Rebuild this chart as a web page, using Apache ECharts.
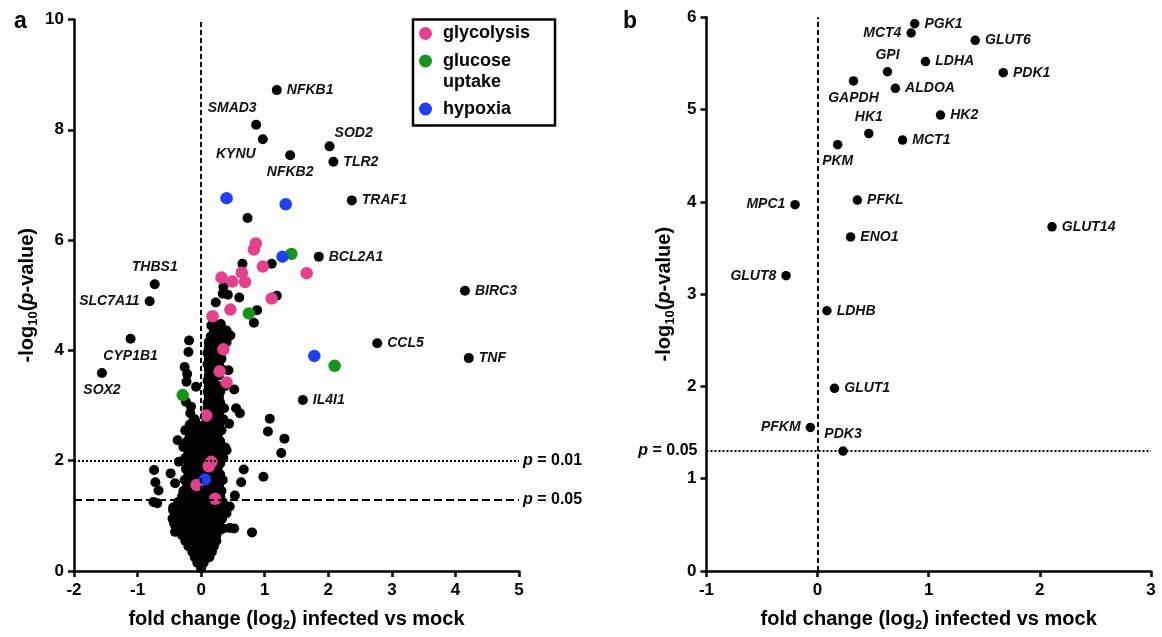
<!DOCTYPE html>
<html>
<head>
<meta charset="utf-8">
<script src="https://cdn.jsdelivr.net/npm/echarts@6/dist/echarts.min.js"></script>
<style>
  html, body { margin: 0; background: #fff; }
  #chart { width: 1162px; height: 637px; }
</style>
</head>
<body>
<div id="chart"></div>
<script>
const FONT = "'Liberation Sans', Arial, sans-serif";

// ---- panel a: [log2 fold change, -log10 p, gene] ----
const namedGenesA = [
  [1.19, 8.72, "NFKB1"], [0.865, 8.09, "SMAD3"], [0.97, 7.83, "KYNU"],
  [1.40, 7.54, "NFKB2"], [2.02, 7.70, "SOD2"], [2.08, 7.42, "TLR2"],
  [2.37, 6.72, "TRAF1"], [1.85, 5.70, "BCL2A1"], [4.15, 5.08, "BIRC3"],
  [-0.73, 5.20, "THBS1"], [-0.81, 4.89, "SLC7A11"], [-1.11, 4.21, "CYP1B1"],
  [-1.56, 3.59, "SOX2"], [2.77, 4.13, "CCL5"], [4.21, 3.86, "TNF"],
  [1.60, 3.10, "IL4I1"]
];

const glycolysisA = [
  [0.86, 5.94], [0.83, 5.83], [0.97, 5.52], [0.64, 5.41], [0.32, 5.32],
  [0.49, 5.25], [0.69, 5.24], [1.66, 5.40], [1.11, 4.94], [0.46, 4.74],
  [0.18, 4.62], [0.35, 4.02], [0.29, 3.62], [0.40, 3.42], [0.08, 2.82],
  [0.16, 1.98], [0.12, 1.90], [-0.07, 1.56], [0.22, 1.31]
];
const glucoseUptakeA = [[1.42, 5.75], [0.75, 4.67], [2.10, 3.72], [-0.29, 3.19]];
const hypoxiaA = [[0.40, 6.76], [1.33, 6.65], [1.28, 5.70], [1.78, 3.90], [0.06, 1.66]];

// scattered unlabeled genes
const otherGenesA = [
  [0.73, 6.40], [0.65, 5.57], [1.11, 5.57], [0.35, 5.15], [0.34, 5.03], [0.42, 5.01],
  [0.60, 4.96], [0.23, 4.87], [1.19, 4.99], [0.88, 4.73], [0.83, 4.50], [0.19, 4.48],
  [0.31, 4.48], [0.40, 4.36], [0.46, 4.27],
  [-0.19, 4.18], [-0.20, 3.97], [-0.26, 3.70], [-0.22, 3.57], [-0.08, 3.34], [-0.23, 3.43],
  [-0.24, 3.07], [-0.16, 2.98], [-0.17, 2.86], [-0.12, 2.74], [-0.17, 2.57],
  [0.43, 3.64], [0.52, 3.29], [0.55, 2.95], [0.61, 2.86], [0.44, 2.67], [1.08, 2.76],
  [1.05, 2.53], [1.31, 2.40], [1.26, 2.14], [0.98, 1.71], [0.67, 1.84], [0.63, 1.61],
  [0.80, 0.70], [0.52, 0.77], [0.35, 0.77], [0.53, 1.37], [0.38, 2.24], [0.40, 2.19],
  [0.38, 1.14], [0.45, 1.17], [0.45, 0.78],
  [-0.74, 1.83], [-0.72, 1.61], [-0.67, 1.46], [-0.75, 1.25], [-0.69, 1.23], [-0.48, 1.77],
  [-0.41, 1.59], [-0.35, 1.98], [-0.37, 2.37], [-0.44, 1.10], [-0.43, 0.89], [-0.41, 0.71],
  [-0.33, 0.83]
];

// dense core of the volcano, read row by row: [-log10 p, [fold changes]]
const coreRowsA = [
  [0.05, [0.0]],
  [0.15, [-0.06, 0.04]],
  [0.25, [-0.1, -0.02, 0.07, 0.13]],
  [0.35, [-0.14, -0.06, 0.02, 0.1, 0.17]],
  [0.45, [-0.2, -0.12, -0.04, 0.04, 0.12, 0.2]],
  [0.55, [-0.25, -0.16, -0.08, 0.0, 0.08, 0.16, 0.24]],
  [0.65, [-0.3, -0.21, -0.12, -0.03, 0.06, 0.15, 0.24]],
  [0.75, [-0.38, -0.28, -0.18, -0.08, 0.02, 0.12, 0.22, 0.3]],
  [0.85, [-0.42, -0.32, -0.22, -0.12, -0.02, 0.08, 0.18, 0.28]],
  [0.95, [-0.45, -0.35, -0.25, -0.15, -0.05, 0.05, 0.15, 0.25, 0.33]],
  [1.05, [-0.4, -0.3, -0.2, -0.1, 0.0, 0.1, 0.2, 0.3, 0.4]],
  [1.15, [-0.44, -0.34, -0.24, -0.14, -0.04, 0.06, 0.16, 0.26, 0.36]],
  [1.25, [-0.36, -0.26, -0.16, -0.06, 0.04, 0.14, 0.24, 0.34]],
  [1.35, [-0.3, -0.2, -0.1, 0.0, 0.1, 0.2, 0.3]],
  [1.45, [-0.28, -0.18, -0.08, 0.02, 0.12, 0.22, 0.32]],
  [1.55, [-0.22, -0.12, -0.02, 0.08, 0.18, 0.28]],
  [1.65, [-0.26, -0.16, -0.06, 0.04, 0.14, 0.24, 0.34]],
  [1.75, [-0.2, -0.1, 0.0, 0.1, 0.2, 0.3]],
  [1.85, [-0.24, -0.14, -0.04, 0.06, 0.16, 0.26]],
  [1.95, [-0.2, -0.1, 0.0, 0.1, 0.2, 0.3]],
  [2.05, [-0.25, -0.15, -0.05, 0.05, 0.15, 0.25, 0.35]],
  [2.15, [-0.2, -0.1, 0.0, 0.1, 0.2, 0.3]],
  [2.25, [-0.28, -0.15, -0.05, 0.05, 0.15, 0.25]],
  [2.35, [-0.22, -0.1, 0.0, 0.1, 0.2, 0.3]],
  [2.45, [-0.18, -0.06, 0.06, 0.16, 0.26]],
  [2.55, [-0.25, -0.12, 0.02, 0.12, 0.22, 0.32]],
  [2.65, [-0.18, -0.06, 0.08, 0.18, 0.28]],
  [2.75, [-0.1, 0.08, 0.15, 0.25, 0.35]],
  [2.85, [0.1, 0.18, 0.28]],
  [2.95, [0.1, 0.16, 0.26, 0.36]],
  [3.05, [0.1, 0.2, 0.3]],
  [3.15, [0.12, 0.2, 0.28]],
  [3.25, [0.1, 0.2, 0.3]],
  [3.35, [0.12, 0.2, 0.28, 0.37]],
  [3.45, [0.1, 0.2]],
  [3.55, [0.12, 0.2, 0.28]],
  [3.65, [0.12, 0.22, 0.34]],
  [3.75, [0.1, 0.18, 0.28]],
  [3.85, [0.12, 0.22, 0.32]],
  [3.95, [0.1, 0.18, 0.28]],
  [4.05, [0.12, 0.22]],
  [4.15, [0.12, 0.2, 0.3, 0.4]],
  [4.25, [0.15, 0.25, 0.35]],
  [4.35, [0.2, 0.3]],
  [4.45, [0.16, 0.28]]
];

// ---- panel b ----
const genesB = [
  [0.874, 5.93, "PGK1"], [0.842, 5.83, "MCT4"], [1.419, 5.75, "GLUT6"],
  [0.629, 5.41, "GPI"], [0.971, 5.52, "LDHA"], [1.671, 5.40, "PDK1"],
  [0.323, 5.31, "GAPDH"], [0.700, 5.23, "ALDOA"], [1.106, 4.94, "HK2"],
  [0.461, 4.74, "HK1"], [0.765, 4.67, "MCT1"], [0.181, 4.62, "PKM"],
  [0.358, 4.02, "PFKL"], [-0.203, 3.97, "MPC1"], [2.110, 3.73, "GLUT14"],
  [0.297, 3.62, "ENO1"], [-0.284, 3.20, "GLUT8"], [0.084, 2.82, "LDHB"],
  [0.152, 1.98, "GLUT1"], [-0.065, 1.555, "PFKM"], [0.229, 1.30, "PDK3"]
];

// label placement (default: right of the point)
const placeA = {
  SMAD3: { position: "top", offset: [-24, 0] },
  KYNU: { position: "bottom", offset: [-27, -2] },
  NFKB2: { position: "bottom" },
  SOD2: { position: "right", offset: [-5, -13] },
  THBS1: { position: "top" },
  SLC7A11: { position: "left" },
  CYP1B1: { position: "bottom" },
  SOX2: { position: "bottom" }
};
const placeB = {
  MCT4: "left", GPI: "top", GAPDH: "bottom", HK1: "top", PKM: "bottom",
  MPC1: "left", GLUT8: "left", PFKM: "left", PDK3: "top"
};

const coreA = coreRowsA.flatMap(([y, xs]) => xs.map((x) => [x, y]));
const pLine = (p) => -Math.log10(p);

const richText = {
  sub: { fontSize: 13, fontWeight: "bold", fontFamily: FONT, color: "#000", padding: [12, 0, 0, 0] },
  it: { fontSize: 20, fontWeight: "bold", fontStyle: "italic", fontFamily: FONT, color: "#000" }
};
const nameStyle = { fontSize: 20, fontWeight: "bold", fontFamily: FONT, color: "#000", rich: richText };
const pLabelRich = { i: { fontStyle: "italic", fontWeight: "bold", fontSize: 16, fontFamily: FONT, color: "#000" } };

function xAxisFor(grid, min, max) {
  return {
    gridIndex: grid, type: "value", min: min, max: max, interval: 1,
    axisLine: { onZero: false, lineStyle: { color: "#000", width: 2.5 } },
    axisTick: { show: true, length: 6, lineStyle: { color: "#000", width: 2.5 } },
    axisLabel: { color: "#000", fontSize: 17, fontWeight: "bold", fontFamily: FONT, margin: 11 },
    splitLine: { show: false },
    name: "fold change (log{sub|2}) infected vs mock",
    nameLocation: "middle", nameGap: 36, nameTextStyle: nameStyle
  };
}
function yAxisFor(grid, max, interval, gap) {
  return {
    gridIndex: grid, type: "value", min: 0, max: max, interval: interval,
    axisLine: { onZero: false, lineStyle: { color: "#000", width: 2.5 } },
    axisTick: { show: true, length: 6, lineStyle: { color: "#000", width: 2.5 } },
    axisLabel: { color: "#000", fontSize: 17, fontWeight: "bold", fontFamily: FONT, margin: 10 },
    splitLine: { show: false },
    name: "-log{sub|10}({it|p}-value)",
    nameLocation: "middle", nameGap: gap, nameTextStyle: nameStyle
  };
}

const geneLabel = {
  show: true, position: "right", distance: 5, color: "#111",
  fontSize: 14, fontWeight: "bold", fontStyle: "italic", fontFamily: FONT,
  formatter: (p) => p.value[2]
};

const legendText = {
  color: "#000", fontSize: 18, fontWeight: "bold", fontFamily: FONT,
  lineHeight: 21, padding: [0, 0, 0, 6]
};
const legendBase = {
  left: 419, orient: "vertical", padding: 0, icon: "circle",
  itemWidth: 13, itemHeight: 13, textStyle: legendText, selectedMode: false
};

var chart = echarts.init(document.getElementById("chart"));
var option = {
  animation: false,
  backgroundColor: "#fff",
  title: [
    { text: "a", left: 9, top: 5, textStyle: { fontSize: 23, fontWeight: "bold", fontFamily: FONT, color: "#000" } },
    { text: "b", left: 618, top: 5, textStyle: { fontSize: 23, fontWeight: "bold", fontFamily: FONT, color: "#000" } }
  ],
  grid: [
    { left: 74, top: 19.5, width: 445, height: 556.5 },
    { left: 706.5, top: 17.3, width: 444.4, height: 556.7 }
  ],
  xAxis: [xAxisFor(0, -2, 5), xAxisFor(1, -1, 3)],
  yAxis: [yAxisFor(0, 10, 2, 34), yAxisFor(1, 6, 1, 30)],
  legend: [
    Object.assign({}, legendBase, { data: ["glycolysis"], top: 23 }),
    // empty first line keeps the icon level with "glucose"
    Object.assign({}, legendBase, { data: ["glucose\nuptake"], top: 29.5, formatter: "\n{name}" }),
    Object.assign({}, legendBase, { data: ["hypoxia"], top: 98.5 })
  ],
  graphic: [
    { type: "rect", left: 410.5, top: 17, silent: true,
      shape: { width: 142, height: 106 },
      style: { fill: "none", stroke: "#000", lineWidth: 2.5 } }
  ],
  series: [
    {
      type: "scatter", xAxisIndex: 0, yAxisIndex: 0, symbolSize: 10,
      itemStyle: { color: "#000", opacity: 1 },
      data: otherGenesA.concat(coreA),
      markLine: {
        silent: true, symbol: ["none", "none"],
        data: [
          { xAxis: 0, lineStyle: { type: [5, 3], width: 2, color: "#000" }, label: { show: false } },
          { yAxis: pLine(0.01), lineStyle: { type: [2, 2], width: 2, color: "#000" },
            label: { show: true, position: "end", distance: 4, formatter: "{i|p} = 0.01",
              fontSize: 16, fontWeight: "bold", fontFamily: FONT, color: "#000", rich: pLabelRich } },
          { yAxis: pLine(0.05), lineStyle: { type: [8, 4], width: 2, color: "#000" },
            label: { show: true, position: "end", distance: 4, formatter: "{i|p} = 0.05",
              fontSize: 16, fontWeight: "bold", fontFamily: FONT, color: "#000", rich: pLabelRich } }
        ]
      }
    },
    {
      type: "scatter", xAxisIndex: 0, yAxisIndex: 0, symbolSize: 10,
      itemStyle: { color: "#000", opacity: 1 },
      label: geneLabel,
      data: namedGenesA.map((g) => Object.assign({ value: g }, placeA[g[2]] ? { label: placeA[g[2]] } : {}))
    },
    {
      name: "glycolysis", type: "scatter", xAxisIndex: 0, yAxisIndex: 0, symbolSize: 12.5,
      itemStyle: { color: "#e4408b", opacity: 1 }, data: glycolysisA
    },
    {
      name: "glucose\nuptake", type: "scatter", xAxisIndex: 0, yAxisIndex: 0, symbolSize: 12.5,
      itemStyle: { color: "#17941c", opacity: 1 }, data: glucoseUptakeA
    },
    {
      name: "hypoxia", type: "scatter", xAxisIndex: 0, yAxisIndex: 0, symbolSize: 12.5,
      itemStyle: { color: "#1f40f5", opacity: 1 }, data: hypoxiaA
    },
    {
      type: "scatter", xAxisIndex: 1, yAxisIndex: 1, symbolSize: 9.5,
      itemStyle: { color: "#000", opacity: 1 },
      label: geneLabel,
      data: genesB.map((g) => placeB[g[2]] ? { value: g, label: { position: placeB[g[2]] } } : { value: g }),
      markLine: {
        silent: true, symbol: ["none", "none"],
        data: [
          { xAxis: 0, lineStyle: { type: [5, 3], width: 2, color: "#000" }, label: { show: false } },
          { yAxis: pLine(0.05), lineStyle: { type: [2, 2], width: 2, color: "#000" },
            label: { show: true, position: "start", distance: 9, formatter: "{i|p} = 0.05",
              fontSize: 16, fontWeight: "bold", fontFamily: FONT, color: "#000", rich: pLabelRich } }
        ]
      }
    }
  ]
};
chart.setOption(option);
</script>
</body>
</html>
